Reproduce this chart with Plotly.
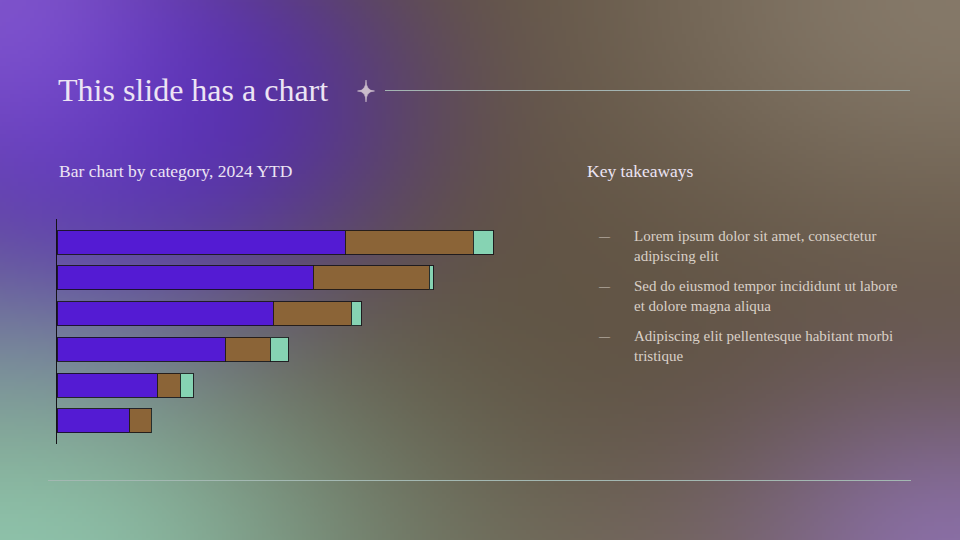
import base64, struct, zlib
import numpy as np
import plotly.graph_objects as go

# ---------------- data ----------------
categories = ["Category A", "Category B", "Category C", "Category D", "Category E", "Category F"]
series_names = ["Series 1", "Series 2", "Series 3"]
series1 = [72, 64, 54, 42, 25, 18]
series2 = [32, 29, 19.5, 11.25, 5.75, 5.5]
series3 = [5, 1, 2.5, 4.5, 3.25, 0.15]
takeaways = [
    "Lorem ipsum dolor sit amet, consectetur<br>adipiscing elit",
    "Sed do eiusmod tempor incididunt ut labore<br>et dolore magna aliqua",
    "Adipiscing elit pellentesque habitant morbi<br>tristique",
]
title_text = "This slide has a chart"
chart_title = "Bar chart by category, 2024 YTD"
side_title = "Key takeaways"

W, H = 960, 540

# ---------------- background image ----------------
def make_bg():
    s = 4
    w, h = W // s, H // s
    ys, xs = np.mgrid[0:h, 0:w].astype(float)
    xs = (xs + 0.5) * s
    ys = (ys + 0.5) * s
    img = np.zeros((h, w, 3)) + np.array([94, 80, 64], float)
    blobs = [
        (960, 0, 360, 240, (140, 128, 112), 0.85, 1.0),
        (650, 580, 260, 120, (125, 108, 90), 0.5, 1.0),
        (960, 560, 230, 170, (140, 112, 170), 0.95, 1.0),
        (0, 330, 220, 140, (112, 108, 178), 0.6, 1.2),
        (110, 110, 290, 210, (82, 40, 180), 0.97, 1.5),
        (0, 0, 190, 190, (135, 90, 215), 0.8, 1.0),
        (0, 570, 400, 240, (142, 194, 170), 1.0, 1.1),
    ]
    for cx, cy, rx, ry, col, st, p in blobs:
        r2 = ((xs - cx) / rx) ** 2 + ((ys - cy) / ry) ** 2
        a = st * np.exp(-(r2 ** p))
        img = img * (1 - a[..., None]) + np.array(col, float) * a[..., None]
    arr = np.clip(img, 0, 255).astype(np.uint8)

    def chunk(tag, data):
        return struct.pack(">I", len(data)) + tag + data + struct.pack(">I", zlib.crc32(tag + data) & 0xFFFFFFFF)

    raw = b"".join(b"\x00" + arr[y].tobytes() for y in range(h))
    png = (b"\x89PNG\r\n\x1a\n"
           + chunk(b"IHDR", struct.pack(">IIBBBBB", w, h, 8, 2, 0, 0, 0))
           + chunk(b"IDAT", zlib.compress(raw, 9))
           + chunk(b"IEND", b""))
    return "data:image/png;base64," + base64.b64encode(png).decode()

bg_src = make_bg()

# ---------------- figure ----------------
colors = ["#541bd3", "#8b6437", "#86d3b3"]
fig = go.Figure()
for name, vals, col in zip(series_names, [series1, series2, series3], colors):
    fig.add_trace(go.Bar(
        y=categories, x=vals, orientation="h", name=name,
        marker=dict(color=col, line=dict(color="rgba(20,18,22,0.85)", width=1)),
        hoverinfo="x+name",
    ))

def px(x):
    return x / W

def py(y):
    return 1 - y / H

fig.update_layout(
    width=W, height=H,
    margin=dict(l=0, r=0, t=0, b=0),
    paper_bgcolor="#5e5040",
    plot_bgcolor="rgba(0,0,0,0)",
    barmode="stack",
    bargap=0.33,
    showlegend=False,
    xaxis=dict(domain=[px(57), px(497)], range=[0, 110], visible=False, fixedrange=True),
    yaxis=dict(domain=[py(444), py(219)], categoryorder="array", categoryarray=categories,
               range=[5.65, -0.65], showline=True, linecolor="#141216", linewidth=1,
               showticklabels=False, showgrid=False, zeroline=False, ticks="", fixedrange=True),
    images=[dict(source=bg_src, xref="paper", yref="paper", x=0, y=1, sizex=1, sizey=1,
                 sizing="stretch", layer="below", xanchor="left", yanchor="top")],
    font=dict(family="Liberation Serif"),
)

# sparkle path (4-point star with concave sides)
cx, cy, rx, ry = 366, 91, 8.5, 11
pts = [(cx, cy - ry), (cx + rx, cy), (cx, cy + ry), (cx - rx, cy)]
d = f"M {px(pts[0][0])},{py(pts[0][1])}"
for p in pts[1:] + pts[:1]:
    d += f" Q {px(cx)},{py(cy)} {px(p[0])},{py(p[1])}"
d += " Z"

shapes = [
    dict(type="line", xref="paper", yref="paper", x0=px(385), x1=px(910), y0=py(90.5), y1=py(90.5),
         line=dict(color="#a3b4b2", width=1.2)),
    dict(type="line", xref="paper", yref="paper", x0=px(48), x1=px(911), y0=py(480.5), y1=py(480.5),
         line=dict(color="#a3b8b2", width=1.2)),
    dict(type="path", xref="paper", yref="paper", path=d, fillcolor="#cbbccb",
         line=dict(color="#cbbccb", width=0.6)),
]
fig.update_layout(shapes=shapes)

ann = []
ann.append(dict(text=title_text, x=px(56), y=py(90), xref="paper", yref="paper", xanchor="left",
                yanchor="middle", showarrow=False,
                font=dict(family="Liberation Serif", size=32, color="#ece4f4")))
ann.append(dict(text=chart_title, x=px(57), y=py(171), xref="paper", yref="paper", xanchor="left",
                yanchor="middle", showarrow=False,
                font=dict(family="Liberation Serif", size=17.5, color="#ece4f4")))
ann.append(dict(text=side_title, x=px(585), y=py(171), xref="paper", yref="paper", xanchor="left",
                yanchor="middle", showarrow=False,
                font=dict(family="Liberation Serif", size=17.5, color="#ece4f4")))
for i, t in enumerate(takeaways):
    yc = 246 + 50 * i
    ann.append(dict(text="—", x=px(596), y=py(236 + 50 * i), xref="paper", yref="paper", xanchor="left",
                    yanchor="middle", showarrow=False,
                    font=dict(family="Liberation Serif", size=11, color="#cfc6bd")))
    ann.append(dict(text=t, x=px(632), y=py(yc), xref="paper", yref="paper", xanchor="left",
                    yanchor="middle", align="left", showarrow=False,
                    font=dict(family="Liberation Serif", size=15, color="#d9d0c7")))
fig.update_layout(annotations=ann)

fig.write_html("out.html", config={"displayModeBar": False})
